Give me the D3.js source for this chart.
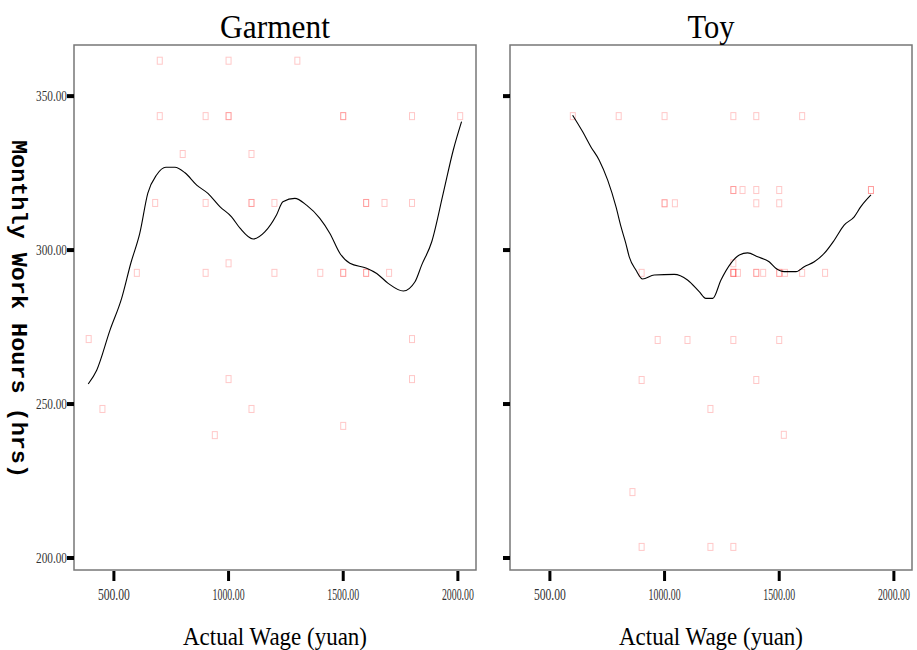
<!DOCTYPE html>
<html>
<head>
<meta charset="utf-8">
<script src="https://cdn.jsdelivr.net/npm/d3@7"></script>
<style>
  body { margin: 0; background: #fff; }
  svg { display: block; }
</style>
</head>
<body>
<svg id="chart" width="917" height="650"></svg>
<script>
// panels
const panels = ['Garment', 'Toy']

// scatter points, wage (yuan) and monthly hours
const garmentWage = [700, 1000, 1300, 700, 900, 1000, 1000, 1500, 1500, 1800, 2010,
  800, 1100, 680, 900, 1100, 1100, 1200, 1600, 1600, 1680, 1800, 1000,
  600, 900, 1200, 1400, 1500, 1500, 1600, 1600, 1700, 390, 1800, 1000, 1800,
  450, 1100, 1500, 940]
const garmentHours = [361.5, 361.5, 361.5, 343.5, 343.5, 343.5, 343.5, 343.5, 343.5, 343.5, 343.5,
  331.2, 331.2, 315.3, 315.3, 315.3, 315.3, 315.3, 315.3, 315.3, 315.3, 315.3, 295.7,
  292.6, 292.6, 292.6, 292.6, 292.6, 292.6, 292.6, 292.6, 292.6, 271.1, 271.1, 258.1, 258.1,
  248.4, 248.4, 242.9, 239.9]

const toyWage = [600, 800, 1000, 1300, 1400, 1600,
  1300, 1300, 1340, 1400, 1500, 1900, 1900,
  1000, 1000, 1045, 1400, 1500, 1300,
  900, 1300, 1300, 1300, 1320, 1400, 1400, 1430, 1500, 1500, 1525, 1600, 1700,
  970, 1100, 1300, 1500, 900, 1400, 1200, 1520, 860, 900, 1200, 1300]
const toyHours = [343.5, 343.5, 343.5, 343.5, 343.5, 343.5,
  319.5, 319.5, 319.5, 319.5, 319.5, 319.5, 319.5,
  315.2, 315.2, 315.2, 315.2, 315.2, 295.7,
  292.6, 292.6, 292.6, 292.6, 292.6, 292.6, 292.6, 292.6, 292.6, 292.6, 292.6, 292.6, 292.6,
  270.8, 270.8, 270.8, 270.8, 257.8, 257.8, 248.4, 240.0, 221.4, 203.6, 203.6, 203.6]

// fitted curves
const garmentFitWage = [388, 425, 483, 534, 574, 613, 648, 686, 727, 766, 810, 861, 910, 962,
  1013, 1050, 1107, 1158, 1209, 1237, 1289, 1340, 1398, 1442, 1486, 1529, 1602, 1646, 1696,
  1762, 1813, 1842, 1886, 1936, 1980, 2016]
const garmentFitHours = [256.5, 261.0, 274.0, 284.4, 295.8, 305.5, 318.5, 324.4, 326.9, 326.9,
  325.1, 321.1, 318.4, 314.1, 310.8, 307.1, 303.6, 305.9, 311.4, 315.7, 316.8, 314.6, 310.3,
  305.4, 298.9, 295.7, 294.1, 292.4, 289.2, 286.7, 289.7, 295.1, 302.7, 318.4, 332.5, 341.7]

const toyFitWage = [599, 643, 679, 715, 752, 788, 810, 831, 846, 875, 904, 955, 1042, 1100,
  1151, 1180, 1210, 1246, 1289, 1326, 1362, 1406, 1456, 1485, 1522, 1573, 1609, 1653, 1696,
  1740, 1783, 1827, 1856, 1900]
const toyFitHours = [343.8, 338.4, 333.5, 329.2, 322.7, 314.1, 307.6, 302.2, 297.8, 293.5,
  290.6, 291.9, 292.1, 290.3, 286.5, 284.3, 284.3, 290.3, 295.7, 298.4, 299.1, 297.8, 296.2,
  294.1, 293.0, 293.0, 294.6, 296.2, 298.9, 303.2, 308.1, 310.8, 314.1, 317.9]

const xTicks = [500, 1000, 1500, 2000]
const yTicks = [200, 250, 300, 350]

const svg = d3.select('#chart')
const TOP = 45, BOTTOM = 570
const panelX = [[74, 476], [510, 912]]

const y = d3.scaleLinear().domain([196.1, 366.6]).range([BOTTOM, TOP])

const series = [
  { wage: garmentWage, hours: garmentHours, fitW: garmentFitWage, fitH: garmentFitHours },
  { wage: toyWage, hours: toyHours, fitW: toyFitWage, fitH: toyFitHours }
]

panels.forEach((name, i) => {
  const [x0, x1] = panelX[i]
  const x = d3.scaleLinear().domain([326, 2079]).range([x0, x1])
  const g = svg.append('g')
  const s = series[i]

  // frame
  g.append('rect')
    .attr('x', x0).attr('y', TOP)
    .attr('width', x1 - x0).attr('height', BOTTOM - TOP)
    .attr('fill', 'none').attr('stroke', '#777').attr('stroke-width', 1.5)

  // title
  g.append('text')
    .attr('x', (x0 + x1) / 2).attr('y', 38)
    .attr('text-anchor', 'middle')
    .attr('font-family', 'Liberation Serif, serif')
    .attr('font-size', 34)
    .attr('textLength', name.length * 15.7)
    .attr('lengthAdjust', 'spacingAndGlyphs')
    .text(name)

  // x ticks
  g.selectAll('.xt').data(xTicks).enter().append('line')
    .attr('x1', d => x(d)).attr('x2', d => x(d))
    .attr('y1', BOTTOM + 1).attr('y2', BOTTOM + 11)
    .attr('stroke', '#000').attr('stroke-width', 3)
  g.selectAll('.xl').data(xTicks).enter().append('text')
    .attr('x', d => x(d)).attr('y', 600)
    .attr('text-anchor', 'middle')
    .attr('font-family', 'Liberation Serif, serif')
    .attr('font-size', 16)
    .attr('fill', '#333')
    .attr('textLength', 32)
    .attr('lengthAdjust', 'spacingAndGlyphs')
    .text(d => d3.format('.2f')(d))

  // y ticks
  g.selectAll('.yt').data(yTicks).enter().append('line')
    .attr('x1', x0 - 7).attr('x2', x0)
    .attr('y1', d => y(d)).attr('y2', d => y(d))
    .attr('stroke', '#000').attr('stroke-width', 4)
  if (i === 0) {
    g.selectAll('.yl').data(yTicks).enter().append('text')
      .attr('x', x0 - 7).attr('y', d => y(d) + 5)
      .attr('text-anchor', 'end')
      .attr('font-family', 'Liberation Serif, serif')
      .attr('font-size', 15)
      .attr('fill', '#333')
      .attr('textLength', 31)
      .attr('lengthAdjust', 'spacingAndGlyphs')
      .text(d => d3.format('.2f')(d))
  }

  // x axis title
  g.append('text')
    .attr('x', (x0 + x1) / 2).attr('y', 645)
    .attr('text-anchor', 'middle')
    .attr('font-family', 'Liberation Serif, serif')
    .attr('font-size', 26)
    .attr('textLength', 184)
    .attr('lengthAdjust', 'spacingAndGlyphs')
    .text('Actual Wage (yuan)')

  // points
  g.selectAll('.pt').data(d3.range(s.wage.length)).enter().append('rect')
    .attr('x', k => x(s.wage[k]) - 2.5)
    .attr('y', k => y(s.hours[k]) - 3.5)
    .attr('width', 5).attr('height', 7)
    .attr('fill', 'none')
    .attr('stroke', '#ff0000').attr('stroke-opacity', 0.22)
    .attr('stroke-width', 1)

  // fit line
  const line = d3.line()
    .x(k => x(s.fitW[k]))
    .y(k => y(s.fitH[k]))
    .curve(d3.curveMonotoneX)
  g.append('path')
    .datum(d3.range(s.fitW.length))
    .attr('d', line)
    .attr('fill', 'none')
    .attr('stroke', '#000')
    .attr('stroke-width', 1.1)
})

// y axis title
svg.append('text')
  .attr('transform', 'translate(12,309) rotate(90)')
  .attr('text-anchor', 'middle')
  .attr('font-family', 'Liberation Mono, monospace')
  .attr('font-weight', 'bold')
  .attr('font-size', 22)
  .attr('textLength', 338)
  .attr('lengthAdjust', 'spacingAndGlyphs')
  .text('Monthly Work Hours (hrs)')
</script>
</body>
</html>
